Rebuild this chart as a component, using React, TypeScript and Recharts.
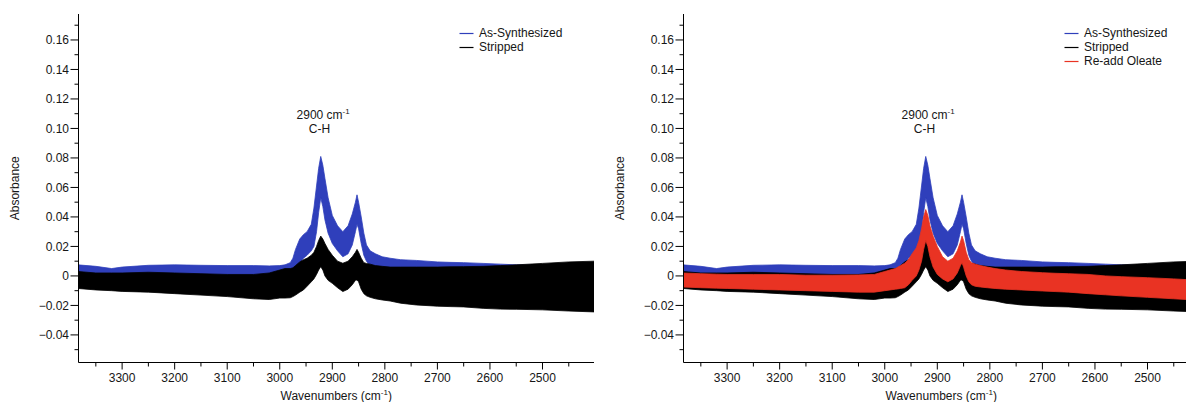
import React from 'react';
import { ComposedChart, Area, XAxis, YAxis, Legend, ReferenceDot, Label } from 'recharts';

// Wavenumber sample points (cm^-1)
const wavenumbers = [
  3384, 3350, 3320, 3300, 3250, 3200, 3150, 3100, 3050, 3020, 3000, 2990, 2980, 2975, 2970,
  2962, 2955, 2948, 2940, 2935, 2930, 2926, 2922, 2918, 2914, 2908, 2900, 2890, 2880, 2870,
  2862, 2856, 2853, 2850, 2845, 2840, 2835, 2828, 2818, 2805, 2790, 2770, 2740, 2700, 2676,
  2650, 2613, 2580, 2550, 2500, 2450, 2402,
];

// As-Synthesized (blue) noise envelope
const asSynthHigh = [
  0.0075, 0.0065, 0.005, 0.006, 0.0072, 0.0075, 0.0072, 0.007, 0.007, 0.0068, 0.007, 0.0075, 0.009, 0.012, 0.018,
  0.025, 0.028, 0.03, 0.035, 0.046, 0.061, 0.073, 0.081, 0.075, 0.066, 0.053, 0.041, 0.034, 0.03, 0.034,
  0.042, 0.05, 0.055, 0.05, 0.04, 0.029, 0.021, 0.017, 0.015, 0.013, 0.012, 0.011, 0.0105, 0.0095, 0.0092,
  0.009, 0.0085, 0.008, 0.0075, 0.007, 0.006, 0.005,
];
const asSynthLow = [
  -0.003, -0.004, -0.005, -0.004, -0.003, -0.003, -0.003, -0.003, -0.003, -0.003, -0.002, -0.001, 0.0, 0.002, 0.005,
  0.009, 0.012, 0.014, 0.017, 0.02, 0.03, 0.043, 0.053, 0.047, 0.038, 0.029, 0.022, 0.017, 0.013, 0.015,
  0.021, 0.03, 0.035, 0.032, 0.022, 0.014, 0.01, 0.007, 0.005, 0.003, 0.002, 0.001, 0.0, -0.001, -0.001,
  -0.002, -0.002, -0.003, -0.003, -0.004, -0.005, -0.006,
];

// Stripped (black) noise envelope
const strippedHigh = [
  0.003, 0.002, 0.002, 0.002, 0.0025, 0.002, 0.0015, 0.001, 0.001, 0.002, 0.004, 0.005, 0.005, 0.0055, 0.007,
  0.0095, 0.011, 0.012, 0.014, 0.016, 0.02, 0.024, 0.027, 0.025, 0.022, 0.018, 0.014, 0.01, 0.0086, 0.01,
  0.013, 0.016, 0.018, 0.016, 0.012, 0.009, 0.0085, 0.008, 0.007, 0.0065, 0.006, 0.006, 0.006, 0.006, 0.0062,
  0.0063, 0.0065, 0.007, 0.0075, 0.0085, 0.0095, 0.01,
];
const strippedLow = [
  -0.0085, -0.0095, -0.01, -0.0105, -0.011, -0.012, -0.013, -0.014, -0.0155, -0.016, -0.015, -0.015, -0.0148, -0.014, -0.013,
  -0.011, -0.0095, -0.007, -0.004, -0.002, 0.001, 0.004, 0.0063, 0.004, 0.0, -0.003, -0.005, -0.008, -0.0106, -0.009,
  -0.006, -0.003, -0.0027, -0.004, -0.009, -0.012, -0.0135, -0.0145, -0.0155, -0.0163, -0.017, -0.0185, -0.0197, -0.0205, -0.0208,
  -0.021, -0.022, -0.0225, -0.0226, -0.023, -0.0238, -0.0244,
];

// Re-add Oleate (red) noise envelope
const readdHigh = [
  0.002, 0.0015, 0.0012, 0.001, 0.001, 0.001, 0.0005, 0.0005, 0.0007, 0.001, 0.003, 0.004, 0.005, 0.006, 0.007,
  0.0086, 0.011, 0.015, 0.019, 0.024, 0.032, 0.04, 0.045, 0.041, 0.034, 0.027, 0.02, 0.013, 0.01, 0.012,
  0.017, 0.023, 0.027, 0.024, 0.016, 0.011, 0.009, 0.008, 0.007, 0.006, 0.005, 0.004, 0.003, 0.0022, 0.0018,
  0.0015, 0.001, 0.0, -0.0005, -0.0012, -0.002, -0.003,
];
const readdLow = [
  -0.0075, -0.008, -0.0083, -0.0085, -0.009, -0.0095, -0.01, -0.0105, -0.011, -0.011, -0.01, -0.0095, -0.009, -0.0088, -0.0085,
  -0.008, -0.006, -0.003, 0.0, 0.004, 0.01, 0.018, 0.024, 0.02, 0.013, 0.006, 0.001, -0.002, -0.004, -0.002,
  0.002, 0.007, 0.009, 0.006, 0.0, -0.004, -0.006, -0.007, -0.0075, -0.008, -0.0085, -0.009, -0.0095, -0.0102, -0.0106,
  -0.011, -0.012, -0.0128, -0.0135, -0.0145, -0.0155, -0.0165,
];

const yTicks = [
  -0.05, -0.04, -0.03, -0.02, -0.01, 0, 0.01, 0.02, 0.03, 0.04, 0.05, 0.06, 0.07, 0.08, 0.09,
  0.1, 0.11, 0.12, 0.13, 0.14, 0.15, 0.16, 0.17,
];
const xTicks = [
  2450, 2500, 2550, 2600, 2650, 2700, 2750, 2800, 2850, 2900, 2950, 3000, 3050, 3100, 3150,
  3200, 3250, 3300, 3350,
];

const seriesNames = ['As-Synthesized', 'Stripped', 'Re-add Oleate'];
const annotationPoint = { x: 2922, y: 0.108 };
const annotationText = { main: '2900 cm', sup: '-1', sub: 'C-H' };
const axisTitles = { x: 'Wavenumbers (cm', xSup: '-1', y: 'Absorbance' };

const data = wavenumbers.map((w, i) => ({
  w,
  asSynth: [asSynthLow[i], asSynthHigh[i]],
  stripped: [strippedLow[i], strippedHigh[i]],
  readd: [readdLow[i], readdHigh[i]],
}));

const FONT = '"Liberation Sans", Arial, Helvetica, sans-serif';
const TEXT = '#161616';
const BLUE = '#2f3fbb';
const RED = '#e93323';
const BLACK = '#000000';

const allSeries = [
  { key: 'asSynth', name: seriesNames[0], color: BLUE },
  { key: 'stripped', name: seriesNames[1], color: BLACK },
  { key: 'readd', name: seriesNames[2], color: RED },
];

const fmtY = (v: number) => {
  if (Math.abs(v) < 1e-9) return '0';
  return (v < 0 ? '\u2212' : '') + Math.abs(v).toFixed(2);
};

const YTick = (props: any) => {
  const { x, y, payload } = props;
  const v = payload.value as number;
  const major = Math.abs(Math.round(v * 100)) % 2 === 0;
  const len = major ? 8 : 4;
  return (
    <g>
      <line x1={x - len} x2={x} y1={y} y2={y} stroke="#000" strokeWidth={1} />
      {major && (
        <text x={x - len - 1.5} y={y} dy={4.3} textAnchor="end" fontFamily={FONT} fontSize={12} fill={TEXT}>
          {fmtY(v)}
        </text>
      )}
    </g>
  );
};

const XTick = (props: any) => {
  const { x, y, payload } = props;
  const v = payload.value as number;
  const major = Math.round(v) % 100 === 0;
  const len = major ? 7 : 4;
  return (
    <g>
      <line x1={x} x2={x} y1={y} y2={y + len} stroke="#000" strokeWidth={1} />
      {major && (
        <text x={x} y={y} dy={19.6} textAnchor="middle" fontFamily={FONT} fontSize={12} fill={TEXT}>
          {v}
        </text>
      )}
    </g>
  );
};

const XTitle = (props: any) => {
  const vb = props.viewBox || {};
  const cx = vb.x + vb.width / 2;
  const y = vb.y + 37;
  return (
    <text x={cx} y={y} textAnchor="middle" fontFamily={FONT} fontSize={12} fill={TEXT}>
      {axisTitles.x}
      <tspan fontSize={8} dy={-5}>{axisTitles.xSup}</tspan>
      <tspan dy={5}>)</tspan>
    </text>
  );
};

const YTitle = (props: any) => {
  const vb = props.viewBox || {};
  const x = vb.x + (vb.width || 0) - 60;
  const cy = vb.y + vb.height / 2;
  return (
    <text
      x={x}
      y={cy}
      textAnchor="middle"
      transform={`rotate(-90 ${x} ${cy})`}
      fontFamily={FONT}
      fontSize={12}
      fill={TEXT}
    >
      {axisTitles.y}
    </text>
  );
};

const Annotation = (props: any) => {
  const vb = props.viewBox || {};
  const cx = vb.x + (vb.width || 0) / 2;
  const cy = vb.y + (vb.height || 0) / 2;
  return (
    <g>
      <text x={cx - 24.2} y={cy + 2.6} fontFamily={FONT} fontSize={12} fill={TEXT}>
        {annotationText.main}
        <tspan fontSize={8} dy={-5}>{annotationText.sup}</tspan>
      </text>
      <text x={cx - 11.9} y={cy + 15.9} fontFamily={FONT} fontSize={12} fill={TEXT}>
        {annotationText.sub}
      </text>
    </g>
  );
};

const LegendBox = ({ series }: { series: typeof allSeries }) => (
  <div style={{ fontFamily: FONT, fontSize: 12, color: TEXT }}>
    {series.map((s) => (
      <div key={s.key} style={{ display: 'flex', alignItems: 'center', height: 14, whiteSpace: 'nowrap' }}>
        <svg width={20} height={14} style={{ display: 'block' }}>
          <line x1={0.5} x2={14.5} y1={7.5} y2={7.5} stroke={s.color} strokeWidth={1.2} />
        </svg>
        <span style={{ lineHeight: '14px' }}>{s.name}</span>
      </div>
    ))}
  </div>
);

const Panel = ({ series }: { series: typeof allSeries }) => (
  <ComposedChart
    width={600}
    height={402}
    data={data}
    margin={{ top: 14, right: 6, left: 0.5, bottom: 0.5 }}
  >
    <XAxis
      type="number"
      dataKey="w"
      domain={[2402, 3383]}
      reversed
      allowDataOverflow
      ticks={xTicks}
      interval={0}
      tick={<XTick />}
      tickLine={false}
      tickSize={0}
      tickMargin={0}
      height={39}
      axisLine={{ stroke: '#000', strokeWidth: 1 }}
    >
      <Label content={<XTitle />} />
    </XAxis>
    <YAxis
      type="number"
      domain={[-0.0587, 0.1776]}
      allowDataOverflow
      ticks={yTicks}
      interval={0}
      tick={<YTick />}
      tickLine={false}
      tickSize={0}
      tickMargin={0}
      width={78}
      axisLine={{ stroke: '#000', strokeWidth: 1 }}
    >
      <Label content={<YTitle />} />
    </YAxis>
    {series.map((s) => (
      <Area
        key={s.key}
        type="linear"
        dataKey={s.key}
        name={s.name}
        stroke={s.color}
        strokeWidth={0.8}
        fill={s.color}
        fillOpacity={1}
        isAnimationActive={false}
        dot={false}
        activeDot={false}
      />
    ))}
    <ReferenceDot
      x={annotationPoint.x}
      y={annotationPoint.y}
      r={1}
      fill="none"
      stroke="none"
      label={<Annotation />}
    />
    <Legend
      layout="vertical"
      align="center"
      verticalAlign="middle"
      wrapperStyle={{ left: 459, top: 26, width: 140, height: 'auto' }}
      content={() => <LegendBox series={series} />}
    />
  </ComposedChart>
);

export default function App() {
  return (
    <div
      style={{
        position: 'fixed',
        left: 0,
        top: 0,
        width: 1186,
        height: 402,
        overflow: 'hidden',
        background: '#fff',
      }}
    >
      <div style={{ position: 'absolute', left: 0, top: 0 }}>
        <Panel series={allSeries.slice(0, 2)} />
      </div>
      <div style={{ position: 'absolute', left: 605, top: 0 }}>
        <Panel series={allSeries} />
      </div>
    </div>
  );
}
